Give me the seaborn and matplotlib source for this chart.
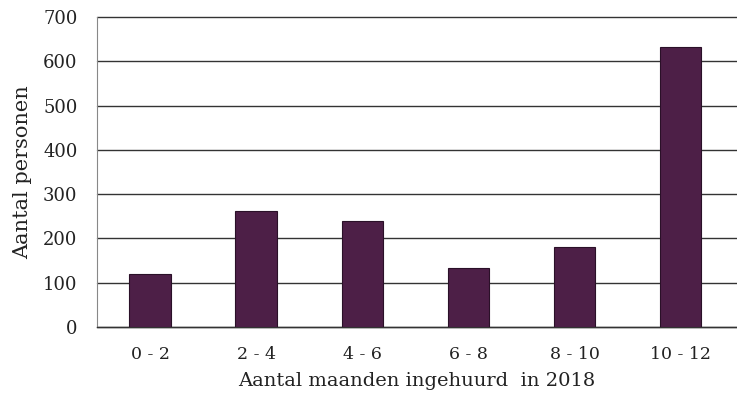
import pandas as pd
import seaborn as sns
import matplotlib
matplotlib.use("Agg")
import matplotlib.pyplot as plt

categories = ["0 - 2", "2 - 4", "4 - 6", "6 - 8", "8 - 10", "10 - 12"]
counts = [120, 262, 239, 134, 181, 633]

df = pd.DataFrame({"Periode": categories, "Aantal": counts})

sns.set_style("white")
plt.rcParams['font.family'] = ['DejaVu Serif']

fig = plt.figure(figsize=(7.37, 4.01), dpi=100)
ax = fig.add_axes([0.1316, 0.1845, 0.8684, 0.7731])

sns.barplot(x="Periode", y="Aantal", data=df, color="#4d1f47", width=0.39,
            edgecolor="#2a1028", linewidth=0.8, saturation=1, ax=ax, zorder=3)

ax.set_ylim(0, 700)
ax.set_xlim(-0.5, 5.53)
ax.set_yticks(range(0, 701, 100))
ax.yaxis.grid(True, color="#333333", linewidth=1.0, clip_on=False)
ax.set_axisbelow(True)
for side in ["top", "right"]:
    ax.spines[side].set_visible(False)
ax.spines["bottom"].set_color("#333333")
ax.spines["bottom"].set_linewidth(1.0)
ax.spines["left"].set_color("#888888")
ax.spines["left"].set_linewidth(0.8)
ax.tick_params(axis="y", length=5, width=1.0, color="#333333", labelsize=13,
               labelcolor="#222222", pad=9)
ax.tick_params(axis="x", length=0, labelsize=12.5, colors="#222222", pad=14)

ax.set_xlabel("Aantal maanden ingehuurd  in 2018", fontsize=14, color="#222222", labelpad=6)
ax.set_ylabel("Aantal personen", fontsize=15, color="#222222", labelpad=8)

fig.savefig("out.png", dpi=100)
